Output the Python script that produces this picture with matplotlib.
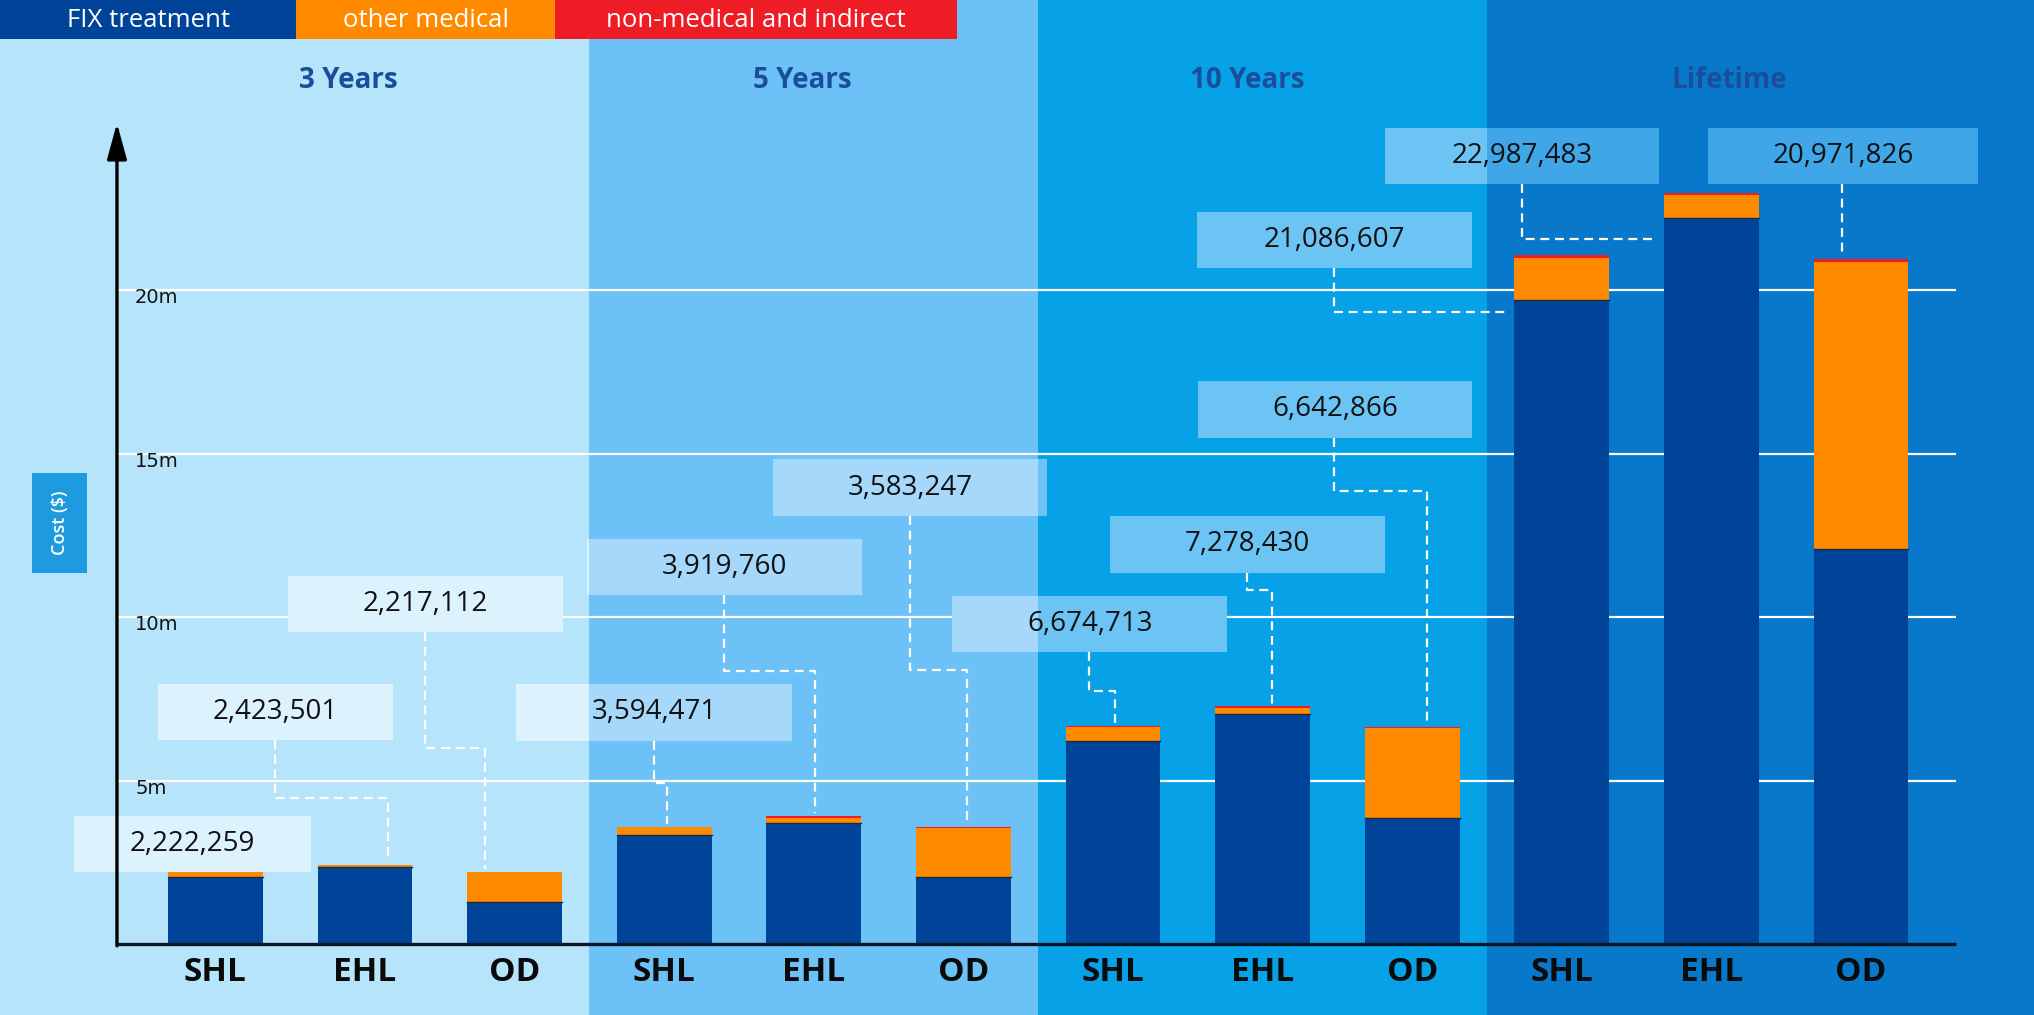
import matplotlib
matplotlib.use("Agg")
import matplotlib.pyplot as plt
from matplotlib.patches import Rectangle

# ---------------- data ----------------
periods = ["3 Years", "5 Years", "10 Years", "Lifetime"]
strategies = ["SHL", "EHL", "OD"]
series_names = ["FIX treatment", "other medical", "non-medical and indirect"]

# cost components in millions of $, bar order: 3Y SHL,EHL,OD, 5Y ..., 10Y ..., Lifetime ...
fix_treatment = [2.05, 2.37, 1.29, 3.35, 3.70, 2.06, 6.23, 7.05, 3.87, 19.70, 22.23, 12.10]
other_medical = [0.162, 0.044, 0.917, 0.229, 0.150, 1.508, 0.425, 0.178, 2.753, 1.297, 0.677, 8.772]
non_medical = [0.010, 0.010, 0.010, 0.015, 0.070, 0.015, 0.020, 0.050, 0.020, 0.090, 0.080, 0.100]
totals = [2222259, 2423501, 2217112, 3594471, 3919760, 3583247,
          6674713, 7278430, 6642866, 21086607, 22987483, 20971826]
ytick_vals = [5, 10, 15, 20]
ytick_labels = ["5m", "10m", "15m", "20m"]

# ---------------- style ----------------
c_fix = "#00449a"
c_other = "#ff8a00"
c_red = "#ee1c25"
panel_bg = ["#b6e4fb", "#6cc1f6", "#06a1e7", "#0878cb"]
box_bg = ["#dcf2fd", "#a5d8fa", "#6cc4f5", "#3fa6e8"]
title_color = "#1a4e9a"

W, H, DPI = 2034, 1015, 100
X0PX, XSTEP = 215.4, 149.6       # pixel of bar 0 centre, pixels per bar
Y0PX, YSTEP = 944.2, 32.69       # pixel of value 0, pixels per million

fig = plt.figure(figsize=(W / DPI, H / DPI), dpi=DPI)
ax = fig.add_axes([0, 0, 1, 1])
ax.set_xlim(-X0PX / XSTEP, (W - X0PX) / XSTEP)
ax.set_ylim((Y0PX - H) / YSTEP, Y0PX / YSTEP)
ax.axis("off")
xmin, xmax = ax.get_xlim()
ymin, ymax = ax.get_ylim()

# panel backgrounds
bounds = [xmin, 2.5, 5.5, 8.5, xmax]
for i in range(4):
    ax.axvspan(bounds[i], bounds[i + 1], color=panel_bg[i], zorder=0, lw=0)

# legend strip at top
leg_bounds = [xmin, 0.539, 2.270, 4.957]
leg_cols = [c_fix, c_other, c_red]
leg_top = ymax
leg_bot = (Y0PX - 39) / YSTEP
for i in range(3):
    ax.add_patch(Rectangle((leg_bounds[i], leg_bot), leg_bounds[i + 1] - leg_bounds[i],
                           leg_top - leg_bot, color=leg_cols[i], lw=0, zorder=5))
    ax.text((leg_bounds[i] + leg_bounds[i + 1]) / 2, (leg_top + leg_bot) / 2 - 0.03, series_names[i],
            color="white", fontsize=18.5, family="Open Sans", ha="center", va="center", zorder=6)

# panel titles
title_x = [0.887, 3.92, 6.90, 10.12]
title_y = (Y0PX - 80) / YSTEP
for t, xx in zip(periods, title_x):
    ax.text(xx, title_y, t, color=title_color, fontsize=20, fontweight="bold",
            family="Open Sans", ha="center", va="center", zorder=6)

# axis geometry
ax_x = -0.658
grid_end = 11.635
for v, lab in zip(ytick_vals, ytick_labels):
    ax.plot([ax_x, grid_end], [v, v], color="white", lw=1.6, zorder=1, solid_capstyle="butt")
    ax.text(-0.537, v - 0.23, lab, fontsize=14, family="DejaVu Sans", color="#111111",
            ha="left", va="center", zorder=6)

# bars
n = len(fix_treatment)
xs = list(range(n))
bw = 0.635
ax.bar(xs, fix_treatment, width=bw, color=c_fix, zorder=4, lw=0)
ax.bar(xs, other_medical, width=bw, bottom=fix_treatment, color=c_other, zorder=4, lw=0)
bot2 = [a + b for a, b in zip(fix_treatment, other_medical)]
ax.bar(xs, non_medical, width=bw, bottom=bot2, color=c_red, zorder=4, lw=0)
# thin dark separation line between FIX and other medical
for i in xs:
    ax.plot([i - bw / 2, i + bw / 2], [fix_treatment[i], fix_treatment[i]],
            color="#1b2b40", lw=1.0, zorder=4.5)
tops = [t / 1e6 for t in totals]

# baseline and y axis with arrow
ax.plot([ax_x, grid_end], [0, 0], color="#0a1626", lw=2.4, zorder=6, solid_capstyle="butt")
ax.annotate("", xy=(ax_x, 25.12), xytext=(ax_x, -0.05),
            arrowprops=dict(arrowstyle="-|>,head_length=1.1,head_width=0.3",
                            mutation_scale=20, lw=2.4, color="black",
                            shrinkA=0, shrinkB=0), zorder=7)

# category labels
for i in xs:
    ax.text(i, -0.88, strategies[i % 3], fontsize=24, fontweight="bold",
            family="Open Sans", color="#0a0a0a", ha="center", va="center", zorder=6)

# y-axis title box
ax.add_patch(Rectangle((-1.226, 11.36), 0.368, 3.06, color="#1e9be0", lw=0, zorder=5))
ax.text(-1.042, 12.89, "Cost ($)", rotation=90, color="white", fontsize=13,
        fontweight="semibold", family="Open Sans", ha="center", va="center", zorder=6)

# value label boxes: (centre x, centre y, width) and connector paths
box_h = 1.72
box_layout = [
    (-0.153, 3.065, 1.584),
    (0.402, 7.10, 1.571),
    (1.404, 10.41, 1.838),
    (2.932, 7.09, 1.845),
    (3.403, 11.55, 1.838),
    (4.643, 13.97, 1.838),
    (5.846, 9.80, 1.838),
    (6.899, 12.23, 1.838),
    (7.484, 16.36, 1.838),
    (7.481, 21.53, 1.838),
    (8.734, 24.11, 1.838),
    (10.88, 24.11, 1.80),
]
conn_paths = [
    [],
    [(0.398, None), (0.398, 4.47), (1.154, 4.47), (1.154, "top")],
    [(1.401, None), (1.401, 6.01), (1.802, 6.01), (1.802, "top")],
    [(2.932, None), (2.932, 4.94), (3.019, 4.94), (3.019, "top")],
    [(3.400, None), (3.400, 8.36), (4.008, 8.36), (4.008, "top")],
    [(4.643, None), (4.643, 8.39), (5.024, 8.39), (5.024, "top")],
    [(5.840, None), (5.840, 7.75), (6.013, 7.75), (6.013, "top")],
    [(6.896, None), (6.896, 10.83), (7.063, 10.83), (7.063, "top")],
    [(7.480, None), (7.480, 13.85), (8.097, 13.85), (8.097, "top")],
    [(7.477, None), (7.477, 19.33), (8.62, 19.33)],
    [(8.734, None), (8.734, 21.57), (9.61, 21.57)],
    [(10.87, None), (10.87, "top")],
]

for i, ((cx, cy, w), path) in enumerate(zip(box_layout, conn_paths)):
    bx0, bx1 = cx - w / 2, cx + w / 2
    # split each box into the panels it covers, using that panel's box tint
    for p in range(4):
        s0, s1 = max(bx0, bounds[p]), min(bx1, bounds[p + 1])
        if s1 > s0:
            ax.add_patch(Rectangle((s0, cy - box_h / 2), s1 - s0, box_h,
                                   facecolor=box_bg[p], lw=0, zorder=2))
    ax.text(cx, cy, f"{totals[i]:,}", fontsize=20, family="Open Sans", color="#111111",
            ha="center", va="center", zorder=6)
    if path:
        px, py = [], []
        for (x, y) in path:
            if y is None:
                y = cy - box_h / 2
            elif y == "top":
                y = tops[i] + 0.08
            px.append(x)
            py.append(y)
        ax.plot(px, py, color="white", lw=1.6, ls=(0, (4, 2.6)), zorder=3)

fig.savefig("out.png", dpi=DPI)
